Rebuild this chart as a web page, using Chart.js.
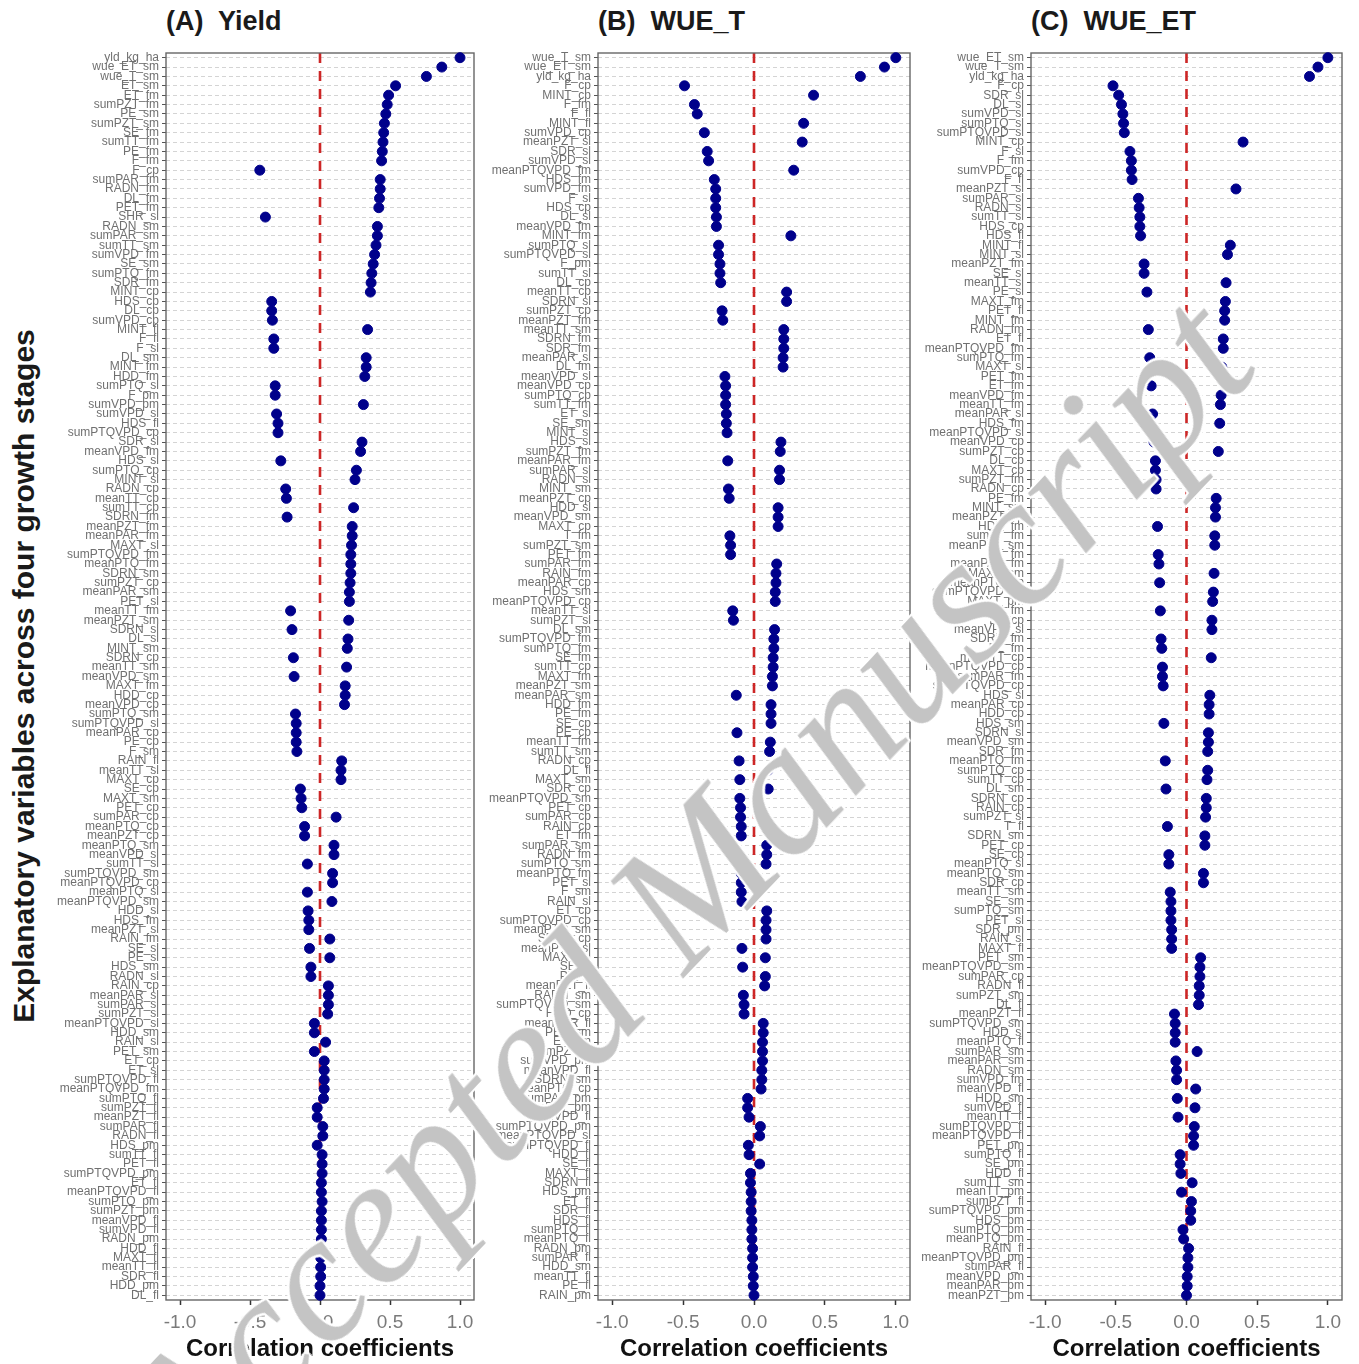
<!DOCTYPE html>
<html>
<head>
<meta charset="utf-8">
<script src="https://cdn.jsdelivr.net/npm/chart.js@4.4.1/dist/chart.umd.min.js"></script>
<style>
  body { margin: 0; background: #fff; }
  #wrap { position: relative; width: 1359px; height: 1364px; overflow: hidden; background: #fff; }
  canvas { position: absolute; top: 0; }
  .ptitle { position: absolute; top: 8px; font: bold 27px 'Liberation Sans', Arial, sans-serif; line-height: 1; color: #1a1a1a; white-space: pre; }
  #ytitle { position: absolute; left: 24px; top: 676px; transform: translate(-50%, -50%) rotate(-90deg);
            font: bold 30px 'Liberation Sans', Arial, sans-serif; color: #1a1a1a; white-space: nowrap; }
  #wm { position: absolute; left: 684px; top: 889px; transform: translate(-50%, -50%) rotate(-46.5deg);
        font: italic 182px 'Liberation Serif', 'Times New Roman', serif; line-height: 1; color: #c4c4c4;
        white-space: nowrap; pointer-events: none;
        text-shadow: 2px 0 #fff, -2px 0 #fff, 0 2px #fff, 0 -2px #fff, 2px 2px #fff, -2px -2px #fff, 2px -2px #fff, -2px 2px #fff; }
</style>
</head>
<body>
<div id="wrap">
  <div id="ytitle">Explanatory variables across four growth stages</div>
  <div class="ptitle" style="left:166px">(A)  Yield</div>
  <div class="ptitle" style="left:598px">(B)  WUE_T</div>
  <div class="ptitle" style="left:1031px">(C)  WUE_ET</div>
  <canvas id="chartA" width="440" height="1364" style="left:40px"></canvas>
  <canvas id="chartB" width="440" height="1364" style="left:480px"></canvas>
  <canvas id="chartC" width="445" height="1364" style="left:912px"></canvas>
  <div id="wm">Accepted Manuscript</div>
</div>
<script>
// variables, ordered as plotted from top to bottom in each panel
const labelsA = `
yld_kg_ha wue_ET_sm wue_T_sm ET_sm ET_fm sumPZT_fm PE_sm sumPZT_sm SE_fm sumTT_fm
PE_fm F_fm F_cp sumPAR_fm RADN_fm DL_fm PET_fm SHR_sl RADN_sm sumPAR_sm
sumTT_sm sumVPD_fm SE_sm sumPTQ_fm SDR_fm MINT_cp HDS_cp DL_cp sumVPD_cp MINT_fl
F_fl F_sl DL_sm MINT_fm HDD_fm sumPTQ_sl F_pm sumVPD_pm sumVPD_sl HDS_fl
sumPTQVPD_cp SDR_sl meanVPD_fm HDS_sl sumPTQ_cp MINT_sl RADN_cp meanTT_cp sumTT_cp SDRN_fm
meanPZT_fm meanPAR_fm MAXT_sl sumPTQVPD_fm meanPTQ_fm SDRN_sm sumPZT_cp meanPAR_sm PET_sl meanTT_fm
meanPZT_sm SDRN_sl DL_sl MINT_sm SDRN_cp meanTT_sm meanVPD_sm MAXT_fm HDD_cp meanVPD_cp
sumPTQ_sm sumPTQVPD_sl meanPAR_cp PE_cp F_sm RAIN_fl meanTT_sl MAXT_cp SE_cp MAXT_sm
PET_cp sumPAR_cp meanPTQ_cp meanPZT_cp meanPTQ_sm meanVPD_sl sumTT_sl sumPTQVPD_sm meanPTQVPD_cp meanPTQ_sl
meanPTQVPD_sm HDD_sl HDS_fm meanPZT_sl RAIN_fm SE_sl PE_sl HDS_sm RADN_sl RAIN_cp
meanPAR_sl sumPAR_sl sumPZT_sl meanPTQVPD_sl HDD_sm RAIN_sl PET_sm ET_cp ET_sl sumPTQVPD_fl
meanPTQVPD_fm sumPTQ_fl sumPZT_fl meanPZT_fl sumPAR_fl RADN_fl HDS_pm sumTT_fl PET_fl sumPTQVPD_pm
ET_fl meanPTQVPD_fl sumPTQ_pm sumPZT_pm meanVPD_fl sumVPD_fl RADN_pm HDD_fl MAXT_fl meanTT_fl
SDR_fl HDD_pm DL_fl`.trim().split(/\s+/);

const labelsB = `
wue_T_sm wue_ET_sm yld_kg_ha F_cp MINT_cp F_fm F_fl MINT_fl sumVPD_cp meanPZT_sl
SDR_sl sumVPD_sl meanPTQVPD_fm HDS_fm sumVPD_fm F_sl HDS_cp DL_sl meanVPD_fm MINT_fm
sumPTQ_sl sumPTQVPD_sl F_pm sumTT_sl DL_cp meanTT_cp SDRN_sl sumPZT_cp meanPZT_fm meanTT_sm
SDRN_fm SDR_fm meanPAR_sl DL_fm meanVPD_sl meanVPD_cp sumPTQ_cp sumTT_fm ET_sl SE_sm
MINT_sl HDS_sl sumPZT_fm meanPAR_fm sumPAR_sl RADN_sl MINT_sm meanPZT_cp HDD_sl meanVPD_sm
MAXT_cp T_fm sumPZT_sm PET_fm sumPAR_fm RAIN_fm meanPAR_cp HDS_sm meanPTQVPD_cp meanTT_sl
sumPZT_sl DL_sm sumPTQVPD_fm sumPTQ_fm SE_fm sumTT_cp MAXT_fm meanPZT_sm meanPAR_sm HDD_fm
PE_fm SE_cp PE_cp meanTT_fm sumTT_sm RADN_cp DL_fl MAXT_sm SDR_cp meanPTQVPD_sm
PET_cp sumPAR_cp RAIN_cp ET_fm sumPAR_sm RADN_fm sumPTQ_sm meanPTQ_fm PET_sl F_sm
RAIN_sl ET_cp sumPTQVPD_cp meanPTQ_sm SDRN_cp meanPTQ_sl MAXT_sl SE_sl PE_sl meanPZT_fl
RADN_sm sumPTQVPD_sm HDD_cp meanPAR_fl PET_sm ET_sm sumPZT_fl sumVPD_pm meanVPD_fl SDRN_sm
meanPTQ_cp sumPAR_pm sumPZT_pm sumVPD_fl sumPTQVPD_pm meanPTQVPD_sl sumPTQVPD_fl HDD_fl SE_fl MAXT_fl
SDRN_fl HDS_pm ET_fl SDR_fl HDS_fl sumPTQ_fl meanPTQ_fl RADN_pm sumPAR_fl HDD_sm
meanTT_fl PE_fl RAIN_pm`.trim().split(/\s+/);

const labelsC = `
wue_ET_sm wue_T_sm yld_kg_ha F_cp SDR_sl DL_sl sumVPD_sl sumPTQ_sl sumPTQVPD_sl MINT_cp
F_sl F_fm sumVPD_cp F_fl meanPZT_sl sumPAR_sl RADN_sl sumTT_sl HDS_cp HDS_fl
MINT_fl MINT_sl meanPZT_fm SE_sl meanTT_sl PE_sl MAXT_fm PET_fl MINT_fm RADN_fm
ET_fl meanPTQVPD_fm sumPTQ_fm MAXT_sl PET_fm ET_fm meanVPD_fm meanTT_fm meanPAR_sl HDS_fm
meanPTQVPD_sl meanVPD_cp sumPZT_cp DL_cp MAXT_cp sumPZT_fm RADN_cp PE_fm MINT_sm meanPZT_cp
HDD_fm sumTT_fm meanPZT_sm SE_fm meanPAR_fm MAXT_sm meanPTQ_cp sumPTQVPD_fm MAXT_pm RAIN_fm
ET_cp meanVPD_sl SDRN_fm DL_fm meanTT_cp meanPTQVPD_cp sumPAR_fm sumPTQVPD_cp HDS_sl meanPAR_cp
HDD_cp HDS_sm SDRN_sl meanVPD_sm SDR_fm meanPTQ_fm sumPTQ_cp sumTT_cp DL_sm SDRN_cp
RAIN_cp sumPZT_sl T_fl SDRN_sm PET_cp SE_cp meanPTQ_sl meanPTQ_sm SDR_cp meanTT_sm
SE_sm sumPTQ_sm PET_sl SDR_pm RAIN_sl MAXT_fl PET_sm meanPTQVPD_sm sumPAR_cp RADN_fl
sumPZT_sm DL_fl meanPZT_fl sumPTQVPD_sm HDD_sl meanPTQ_fl sumPAR_sm meanPAR_sm RADN_sm sumVPD_fm
meanVPD_fl HDD_sm sumVPD_fl meanTT_fl sumPTQVPD_fl meanPTQVPD_fl PET_pm sumPTQ_fl SE_pm HDD_fl
sumTT_sm meanTT_pm sumPZT_fl sumPTQVPD_pm HDS_pm sumPTQ_pm meanPTQ_pm RAIN_fl meanPTQVPD_pm sumPAR_fl
meanVPD_pm meanPAR_pm meanPZT_pm`.trim().split(/\s+/);

// correlation coefficients with yield
const corrYield = [
  1.00, 0.87, 0.76, 0.54, 0.49, 0.48, 0.47, 0.46, 0.455, 0.45,
  0.445, 0.44, -0.43, 0.43, 0.43, 0.425, 0.42, -0.39, 0.41, 0.41,
  0.40, 0.39, 0.38, 0.37, 0.365, 0.36, -0.345, -0.345, -0.34, 0.34,
  -0.33, -0.33, 0.33, 0.33, 0.32, -0.32, -0.32, 0.31, -0.31, -0.30,
  -0.30, 0.30, 0.29, -0.28, 0.26, 0.25, -0.245, -0.24, 0.24, -0.235,
  0.23, 0.23, 0.225, 0.22, 0.22, 0.22, 0.215, 0.21, 0.21, -0.21,
  0.205, -0.20, 0.20, 0.195, -0.19, 0.19, -0.185, 0.18, 0.18, 0.175,
  -0.175, -0.17, -0.17, -0.17, -0.165, 0.155, 0.15, 0.15, -0.14, -0.135,
  -0.13, 0.115, -0.11, -0.11, 0.10, 0.10, -0.09, 0.09, 0.09, -0.09,
  0.085, -0.085, -0.08, -0.08, 0.07, -0.075, 0.07, -0.065, -0.065, 0.06,
  0.06, 0.06, 0.055, -0.04, -0.04, 0.04, -0.04, 0.03, 0.03, 0.03,
  0.03, 0.025, -0.02, -0.02, 0.02, 0.02, -0.02, 0.015, 0.015, 0.015,
  0.01, 0.01, 0.015, 0.01, 0.01, 0.01, 0.01, 0.005, 0.005, 0.005,
  0.005, 0.0, 0.0
];

// correlation coefficients with WUE based on transpiration
const corrWueT = [
  1.00, 0.92, 0.75, -0.49, 0.42, -0.42, -0.40, 0.35, -0.35, 0.34,
  -0.33, -0.32, 0.28, -0.28, -0.27, -0.27, -0.27, -0.265, -0.265, 0.26,
  -0.25, -0.25, -0.24, -0.24, -0.235, 0.23, 0.23, -0.225, -0.22, 0.21,
  0.21, 0.21, 0.205, 0.205, -0.205, -0.20, -0.20, -0.20, -0.195, -0.195,
  -0.19, 0.19, 0.185, -0.185, 0.18, 0.18, -0.18, -0.175, 0.17, 0.17,
  0.17, -0.17, -0.165, -0.165, 0.16, 0.155, 0.155, 0.15, 0.15, -0.15,
  -0.145, 0.145, 0.14, 0.14, 0.135, 0.135, 0.13, 0.13, -0.125, 0.12,
  0.12, 0.12, -0.12, 0.115, 0.11, -0.105, 0.10, -0.10, 0.10, -0.10,
  -0.095, -0.095, -0.09, -0.09, 0.09, 0.09, 0.085, -0.09, -0.09, -0.09,
  -0.085, 0.09, 0.085, 0.085, 0.085, -0.085, 0.08, -0.08, 0.08, 0.075,
  -0.075, -0.07, -0.07, 0.065, 0.065, 0.06, 0.06, 0.06, 0.055, 0.055,
  0.05, -0.045, -0.045, -0.035, 0.045, 0.04, -0.04, -0.035, 0.04, -0.025,
  -0.025, -0.02, -0.02, -0.02, -0.015, -0.015, -0.015, -0.01, -0.01, -0.01,
  -0.005, -0.005, 0.0
];

// correlation coefficients with WUE based on evapotranspiration
const corrWueET = [
  1.00, 0.93, 0.87, -0.52, -0.48, -0.46, -0.45, -0.445, -0.44, 0.40,
  -0.40, -0.39, -0.39, -0.385, 0.35, -0.34, -0.335, -0.33, -0.33, -0.325,
  0.31, 0.29, -0.30, -0.30, 0.28, -0.28, 0.275, 0.27, 0.27, -0.27,
  0.26, 0.26, -0.26, 0.25, 0.25, -0.25, 0.245, 0.24, -0.24, 0.235,
  -0.235, -0.23, 0.225, -0.22, -0.22, -0.215, -0.215, 0.21, 0.205, 0.205,
  -0.205, 0.20, 0.20, -0.20, -0.195, 0.195, -0.19, 0.19, 0.185, -0.185,
  0.18, 0.18, -0.18, -0.175, 0.175, -0.17, -0.17, -0.165, 0.165, 0.16,
  0.16, -0.16, 0.155, 0.155, 0.15, -0.15, 0.15, 0.145, -0.145, 0.14,
  0.14, 0.135, -0.135, 0.13, 0.13, -0.125, -0.125, 0.12, 0.12, -0.115,
  -0.11, -0.11, -0.11, -0.105, -0.105, -0.105, 0.10, 0.095, 0.095, 0.09,
  0.09, 0.085, -0.085, -0.08, -0.08, -0.08, 0.075, -0.075, -0.07, -0.07,
  0.065, -0.065, 0.06, -0.06, 0.055, 0.05, 0.05, -0.045, -0.045, -0.04,
  0.04, -0.035, 0.035, 0.03, 0.03, -0.025, -0.02, 0.015, 0.01, 0.01,
  0.005, 0.005, 0.0
];

const xTickValues = [-1, -0.5, 0, 0.5, 1];

const dotColor = '#00008b';
const font = 'Liberation Sans';

// red dashed reference line at r = 0
const zeroLine = {
  id: 'zeroLine',
  beforeDatasetsDraw(chart) {
    const { ctx, chartArea, scales } = chart;
    const x = scales.x.getPixelForValue(0);
    ctx.save();
    ctx.strokeStyle = '#cd2626';
    ctx.lineWidth = 2.6;
    ctx.setLineDash([10, 8]);
    ctx.beginPath();
    ctx.moveTo(x, chartArea.top);
    ctx.lineTo(x, chartArea.bottom);
    ctx.stroke();
    ctx.restore();
  }
};

// box around the plotting area
const panelBorder = {
  id: 'panelBorder',
  beforeDatasetsDraw(chart) {
    const { ctx, chartArea: a } = chart;
    ctx.save();
    ctx.strokeStyle = '#666';
    ctx.lineWidth = 1.4;
    ctx.strokeRect(a.left, a.top, a.right - a.left, a.bottom - a.top);
    ctx.restore();
  }
};

function makePanel(id, labels, values, axisWidth, padRight) {
  return new Chart(document.getElementById(id), {
    type: 'line',
    data: {
      labels: labels,
      datasets: [{
        data: values,
        showLine: false,
        pointRadius: 5,
        pointHoverRadius: 5,
        pointBorderWidth: 1,
        pointBackgroundColor: dotColor,
        pointBorderColor: dotColor
      }]
    },
    options: {
      indexAxis: 'y',
      responsive: false,
      animation: false,
      devicePixelRatio: 1,
      layout: { padding: { top: 53, right: padRight, bottom: 0, left: 0 } },
      plugins: { legend: { display: false }, tooltip: { enabled: false } },
      scales: {
        x: {
          type: 'linear',
          min: -1.1,
          max: 1.1,
          afterBuildTicks: s => { s.ticks = xTickValues.map(v => ({ value: v })); },
          afterFit: s => { s.height = 64; },
          grid: { drawOnChartArea: false, drawTicks: true, tickLength: 5, tickColor: '#333', tickWidth: 1.5 },
          border: { display: false },
          ticks: {
            padding: 6,
            color: '#7a7a7a',
            font: { family: font, size: 19 },
            callback: v => v.toFixed(1)
          },
          title: {
            display: true,
            text: 'Correlation coefficients',
            color: '#111',
            font: { family: font, size: 24, weight: 'bold' },
            padding: { top: 0, bottom: 0 }
          }
        },
        y: {
          type: 'category',
          offset: true,
          afterFit: s => { s.width = axisWidth; },
          grid: {
            offset: false,
            color: '#d4d4d4',
            lineWidth: 1,
            tickLength: 4,
            tickColor: '#555',
            tickWidth: 1,
            tickBorderDash: []
          },
          border: { display: false, dash: [4, 3] },
          ticks: {
            autoSkip: false,
            padding: 3,
            color: '#707070',
            font: { family: font, size: 12 }
          }
        }
      }
    },
    plugins: [zeroLine, panelBorder]
  });
}

makePanel('chartA', labelsA, corrYield, 126, 4);
makePanel('chartB', labelsB, corrWueT, 118, 10);
makePanel('chartC', labelsC, corrWueET, 119, 15);
</script>
</body>
</html>
